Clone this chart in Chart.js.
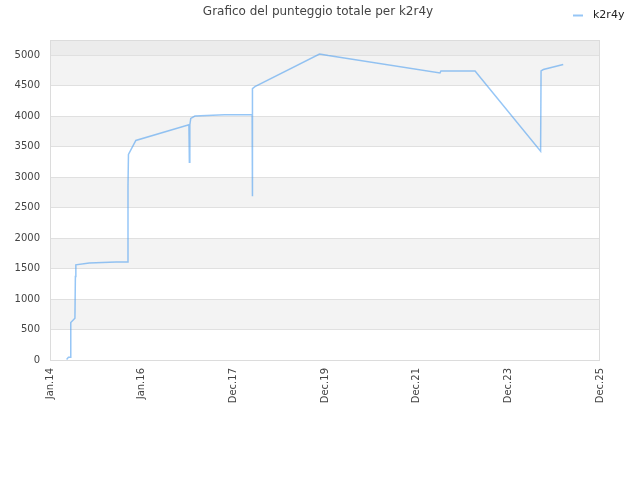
<!DOCTYPE html>
<html>
<head>
<meta charset="utf-8">
<script src="https://cdn.jsdelivr.net/npm/chart.js@4/dist/chart.umd.min.js"></script>
<style>
  html, body { margin: 0; padding: 0; background: #fff; }
  #wrap { width: 640px; height: 480px; }
</style>
</head>
<body>
<div id="wrap"><canvas id="punteggio"></canvas></div>
<script>
// >>> data (x in decimal years)
const titleText = "Grafico del punteggio totale per k2r4y";
const seriesName = "k2r4y";
const xYears = [2014.36, 2014.40, 2014.45, 2014.45, 2014.54, 2014.55, 2014.56, 2014.85, 2015.43, 2015.68,
  2015.69, 2015.70, 2015.86, 2017.01, 2017.02, 2017.03, 2017.05, 2017.14, 2017.78, 2018.38,
  2018.38, 2018.39, 2018.39, 2018.44, 2019.84, 2020.03, 2022.45, 2022.47, 2023.21, 2024.63,
  2024.64, 2024.69, 2025.12];
const scores = [10, 45, 45, 614, 686, 1370, 1562, 1590, 1606, 1606,
  2850, 3372, 3602, 3860, 3245, 3860, 3964, 4002, 4025, 4025,
  2686, 3355, 4452, 4485, 5021, 4995, 4709, 4742, 4742, 3426,
  4742, 4765, 4847];
const xTickLabels = ["Jan.14", "Jan.16", "Dec.17", "Dec.19", "Dec.21", "Dec.23", "Dec.25"];
const yTickValues = [0, 500, 1000, 1500, 2000, 2500, 3000, 3500, 4000, 4500, 5000];
const xStart = 2014.0, xEnd = 2025.917;
const yMax = 5250;

const lineColor = "rgba(80,160,240,0.6)";

// >>> background bands, frame, title and legend
const decor = {
  id: "decor",
  beforeDraw(chart) {
    const ctx = chart.ctx, a = chart.chartArea, y = chart.scales.y;
    ctx.save();
    ctx.fillStyle = "#fff";
    ctx.fillRect(0, 0, chart.width, chart.height);
    yTickValues.forEach((v, i) => {
      const next = i < yTickValues.length - 1 ? yTickValues[i + 1] : yMax;
      const top = y.getPixelForValue(next);
      const bot = y.getPixelForValue(v);
      if (next === yMax) ctx.fillStyle = "#ececec";
      else ctx.fillStyle = i % 2 ? "#f3f3f3" : "#ffffff";
      ctx.fillRect(a.left, top, a.right - a.left, bot - top);
    });
    ctx.restore();
  },
  afterDraw(chart) {
    const ctx = chart.ctx, a = chart.chartArea;
    ctx.save();
    ctx.strokeStyle = "#dcdcdc";
    ctx.lineWidth = 1;
    ctx.strokeRect(a.left + 0.5, a.top + 0.5, a.right - a.left - 1, a.bottom - a.top);
    // title
    ctx.fillStyle = "#444";
    ctx.font = "12px 'DejaVu Sans'";
    ctx.textAlign = "center";
    ctx.textBaseline = "middle";
    ctx.fillText(titleText, 318, 12);
    // legend
    ctx.strokeStyle = lineColor;
    ctx.lineWidth = 2;
    ctx.beginPath();
    ctx.moveTo(573, 15.5);
    ctx.lineTo(583, 15.5);
    ctx.stroke();
    ctx.fillStyle = "#222";
    ctx.font = "11px 'DejaVu Sans'";
    ctx.textAlign = "left";
    ctx.fillText(seriesName, 593, 15);
    ctx.restore();
  }
};

new Chart("punteggio", {
  type: "line",
  data: {
    datasets: [{
      label: seriesName,
      data: xYears.map((x, i) => ({ x: x, y: scores[i] })),
      borderColor: lineColor,
      backgroundColor: lineColor,
      borderWidth: 1.5,
      pointRadius: 0,
      tension: 0,
      fill: false
    }]
  },
  options: {
    responsive: true,
    maintainAspectRatio: false,
    animation: false,
    layout: { padding: { top: 40, right: 40, left: 0, bottom: 0 } },
    plugins: {
      legend: { display: false },
      title: { display: false },
      tooltip: { enabled: false }
    },
    scales: {
      x: {
        type: "linear",
        min: xStart,
        max: xEnd,
        afterBuildTicks(scale) {
          scale.ticks = xTickLabels.map((l, i) => ({ value: xStart + (xEnd - xStart) * i / 6 }));
        },
        afterFit(scale) { scale.height = 120; },
        grid: { display: false, drawTicks: false },
        border: { display: false },
        ticks: {
          minRotation: 90,
          maxRotation: 90,
          autoSkip: false,
          padding: 8,
          color: "#444",
          font: { family: "DejaVu Sans", size: 10 },
          callback(value, index) { return xTickLabels[index]; }
        }
      },
      y: {
        min: 0,
        max: yMax,
        afterBuildTicks(scale) {
          scale.ticks = yTickValues.map(v => ({ value: v }));
        },
        afterFit(scale) { scale.width = 50; },
        grid: { color: "#e0e0e0", drawTicks: false },
        border: { display: false },
        ticks: {
          autoSkip: false,
          padding: 10,
          color: "#444",
          font: { family: "DejaVu Sans", size: 10 },
          callback(value) { return String(value); }
        }
      }
    }
  },
  plugins: [decor]
});
</script>
</body>
</html>
